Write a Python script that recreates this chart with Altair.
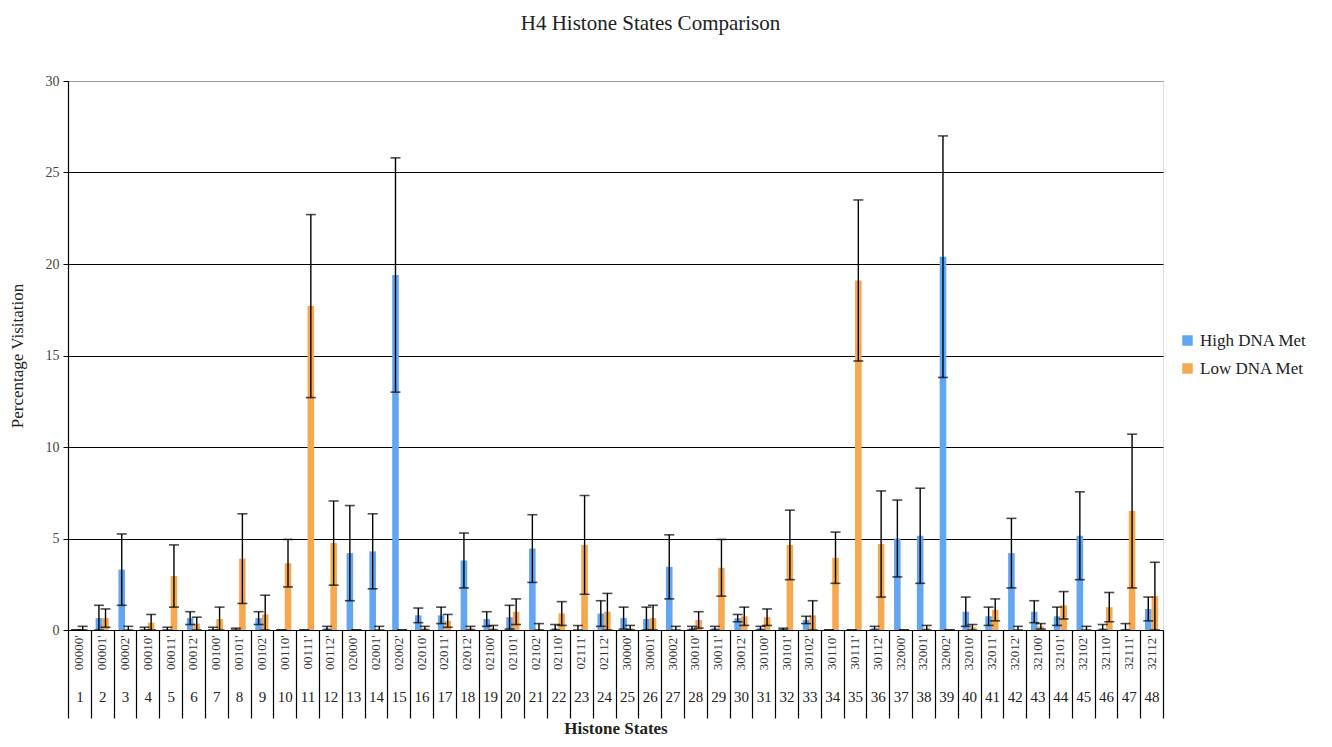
import altair as alt
import pandas as pd

states = ["00000'", "00001'", "00002'", "00010'", "00011'", "00012'", "00100'", "00101'",
          "00102'", "00110'", "00111'", "00112'", "02000'", "02001'", "02002'", "02010'",
          "02011'", "02012'", "02100'", "02101'", "02102'", "02110'", "02111'", "02112'",
          "30000'", "30001'", "30002'", "30010'", "30011'", "30012'", "30100'", "30101'",
          "30102'", "30110'", "30111'", "30112'", "32000'", "32001'", "32002'", "32010'",
          "32011'", "32012'", "32100'", "32101'", "32102'", "32110'", "32111'", "32112'"]

high_vals = [0.0, 0.65, 3.3, 0.0, 0.0, 0.65, 0.0, 0.0, 0.65, 0.0, 0.0, 0.1,
             4.2, 4.3, 19.4, 0.8, 0.8, 3.8, 0.6, 0.7, 4.45, 0.1, 0.0, 0.9,
             0.65, 0.6, 3.45, 0.1, 0.1, 0.65, 0.1, 0.05, 0.55, 0.0, 0.0, 0.1,
             5.0, 5.15, 20.4, 1.0, 0.75, 4.2, 1.0, 0.75, 5.15, 0.1, 0.05, 1.15]
high_err = [0.0, 0.7, 1.95, 0.15, 0.15, 0.35, 0.15, 0.1, 0.35, 0.0, 0.0, 0.1,
            2.6, 2.05, 6.4, 0.4, 0.45, 1.5, 0.4, 0.65, 1.85, 0.2, 0.25, 0.7,
            0.6, 0.65, 1.75, 0.1, 0.1, 0.2, 0.1, 0.05, 0.2, 0.0, 0.0, 0.1,
            2.1, 2.6, 6.6, 0.8, 0.5, 1.9, 0.6, 0.5, 2.4, 0.2, 0.3, 0.65]
low_vals = [0.05, 0.65, 0.0, 0.4, 2.95, 0.35, 0.6, 3.9, 0.85, 3.65, 17.7, 4.75,
            0.0, 0.0, 0.0, 0.1, 0.5, 0.1, 0.1, 1.0, 0.05, 0.9, 4.65, 1.0,
            0.1, 0.65, 0.0, 0.55, 3.4, 0.75, 0.7, 4.65, 0.8, 3.95, 19.1, 4.7,
            0.0, 0.1, 0.0, 0.15, 1.1, 0.0, 0.2, 1.35, 0.0, 1.25, 6.5, 1.85]
low_err = [0.15, 0.5, 0.2, 0.45, 1.7, 0.35, 0.65, 2.45, 1.05, 1.3, 5.0, 2.3,
           0.0, 0.2, 0.0, 0.1, 0.35, 0.1, 0.15, 0.7, 0.3, 0.65, 2.7, 1.0,
           0.15, 0.7, 0.2, 0.45, 1.55, 0.5, 0.45, 1.9, 0.8, 1.4, 4.4, 2.9,
           0.0, 0.15, 0.0, 0.15, 0.6, 0.2, 0.15, 0.75, 0.2, 0.8, 4.2, 1.85]

series_names = ["High DNA Met", "Low DNA Met"]
series_colors = ["#62A6F2", "#F6A84E"]
y_ticks = [0, 5, 10, 15, 20, 25, 30]

rows = []
for i, s in enumerate(states):
    for name, vals, errs in ((series_names[0], high_vals, high_err),
                             (series_names[1], low_vals, low_err)):
        rows.append({"state": s, "num": i + 1, "series": name,
                     "value": vals[i], "err": errs[i]})
df = pd.DataFrame(rows)

serif = "Liberation Serif"
label_map = {s: str(i + 1) for i, s in enumerate(states)}
num_expr = "{" + ",".join(f'"{k}":"{v}"' for k, v in label_map.items()) + "}[datum.value]"

x_scale = alt.Scale(domain=states, paddingInner=0, paddingOuter=0)
xoff = alt.XOffset("series:N", scale=alt.Scale(domain=series_names, paddingInner=0, paddingOuter=0.73))
y_scale = alt.Scale(domain=[0, 30], nice=False)

base = alt.Chart(df).transform_calculate(
    hi="datum.value + datum.err",
    lo="max(0, datum.value - datum.err)",
)

bars = base.mark_bar().encode(
    x=alt.X("state:N", scale=x_scale, sort=states,
            axis=alt.Axis(orient="bottom", title=None, labelAngle=-90,
                          labelFont=serif, labelFontSize=13, labelColor="#333",
                          labelPadding=5, ticks=False, domainColor="black",
                          domainWidth=1.2)),
    xOffset=xoff,
    y=alt.Y("value:Q", scale=y_scale,
            axis=alt.Axis(values=y_ticks, title="Percentage Visitation",
                          titleFont=serif, titleFontSize=17, titleFontWeight="normal",
                          titleColor="#222", titlePadding=19,
                          labelFont=serif, labelFontSize=14, labelColor="#444",
                          labelPadding=4, tickSize=5, tickColor="black",
                          domainColor="black", domainWidth=1.2,
                          grid=True,
                          gridColor={"condition": {"test": "datum.value === 30 || datum.value === 0",
                                                   "value": "#999999"},
                                     "value": "black"},
                          gridWidth=1.2)),
    color=alt.Color("series:N", scale=alt.Scale(domain=series_names, range=series_colors),
                    legend=alt.Legend(title=None, orient="none", legendX=1111, legendY=251,
                                      labelFont=serif, labelFontSize=17, labelColor="#222",
                                      labelOffset=4,
                                      symbolType="square", symbolSize=110,
                                      symbolStrokeWidth=0, rowPadding=10)),
)

rules = base.mark_rule(color="black", strokeWidth=1.4).encode(
    x=alt.X("state:N", scale=x_scale, sort=states,
            axis=alt.Axis(orient="bottom", title="Histone States", labelAngle=0,
                          labelExpr=num_expr,
                          labelFont=serif, labelFontSize=15, labelColor="#222",
                          tickBand="extent", tickSize=88, tickColor="black",
                          tickWidth=1.2, labelPadding=-29, domain=False,
                          titleFont=serif, titleFontSize=17, titleFontWeight="bold",
                          titleColor="#222", titlePadding=2, titleBaseline="top")),
    xOffset=xoff,
    y=alt.Y("lo:Q", scale=y_scale),
    y2="hi:Q",
)

caps_hi = base.mark_tick(color="black", thickness=1.6, size=10).encode(
    x=alt.X("state:N", scale=x_scale, sort=states, axis=None),
    xOffset=xoff,
    y=alt.Y("hi:Q", scale=y_scale),
)
caps_lo = base.mark_tick(color="black", thickness=1.6, size=10).encode(
    x=alt.X("state:N", scale=x_scale, sort=states, axis=None),
    xOffset=xoff,
    y=alt.Y("lo:Q", scale=y_scale),
)

chart = alt.layer(bars, rules, caps_hi, caps_lo).resolve_axis(x="independent").properties(
    width=1095, height=549,
    autosize=alt.AutoSizeParams(type="none"),
    padding={"left": 60, "top": 73, "right": 150, "bottom": 109},
    title=alt.TitleParams("H4 Histone States Comparison", font=serif, fontSize=21,
                          fontWeight="normal", color="#222", offset=40, dx=35),
).configure_view(stroke="#999999", strokeWidth=1.2).configure(background="white")

chart.save("out.html", embed_options={"renderer": "svg", "actions": False})
